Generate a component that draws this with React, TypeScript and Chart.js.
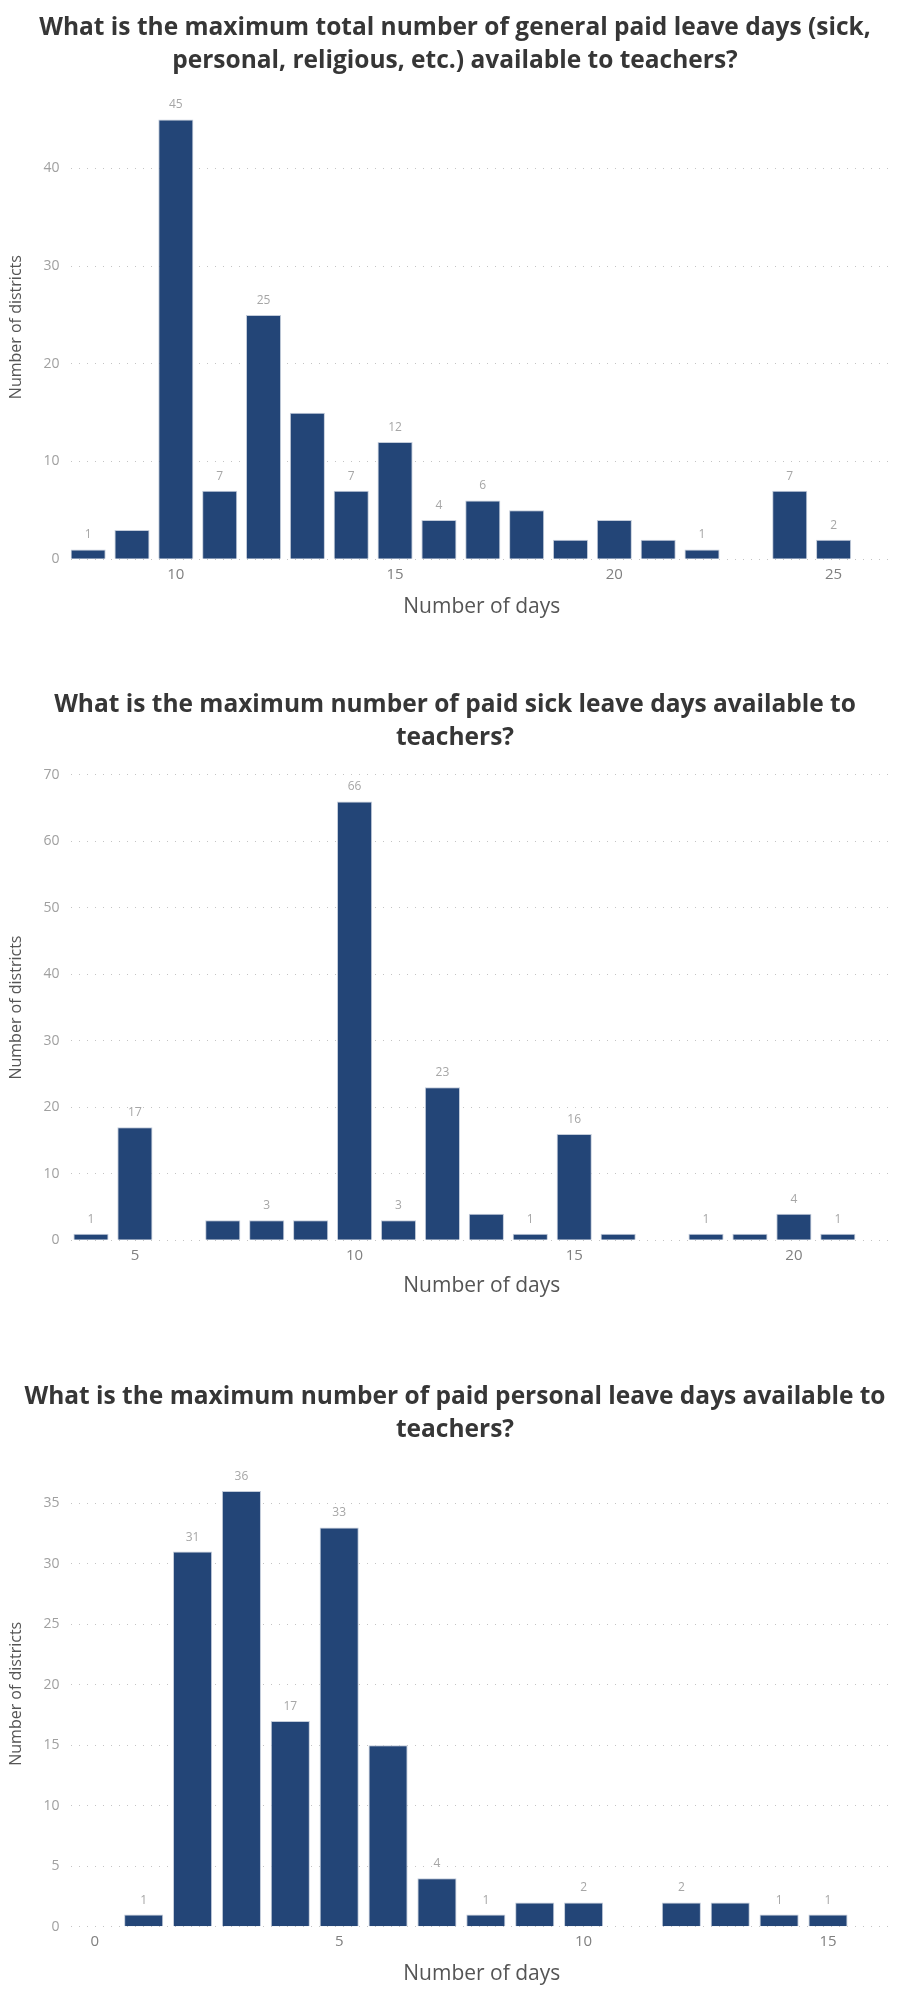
import React, { useEffect, useRef } from "react";
import { Chart, registerables } from "chart.js";

Chart.register(...registerables);

// ---------- Data ----------
// Chart 1: total general paid leave days
const generalTitle = [
  "What is the maximum total number of general paid leave days (sick,",
  "personal, religious, etc.) available to teachers?",
];
const generalDays = [8, 9, 10, 11, 12, 13, 14, 15, 16, 17, 18, 19, 20, 21, 22, 24, 25];
const generalCounts = [1, 3, 45, 7, 25, 15, 7, 12, 4, 6, 5, 2, 4, 2, 1, 7, 2];
const generalLabeledDays = [8, 10, 11, 12, 14, 15, 16, 17, 22, 24, 25];

// Chart 2: paid sick leave days
const sickTitle = [
  "What is the maximum number of paid sick leave days available to",
  "teachers?",
];
const sickDays = [4, 5, 7, 8, 9, 10, 11, 12, 13, 14, 15, 16, 18, 19, 20, 21];
const sickCounts = [1, 17, 3, 3, 3, 66, 3, 23, 4, 1, 16, 1, 1, 1, 4, 1];
const sickLabeledDays = [4, 5, 8, 10, 11, 12, 14, 15, 18, 20, 21];

// Chart 3: paid personal leave days
const personalTitle = [
  "What is the maximum number of paid personal leave days available to",
  "teachers?",
];
const personalDays = [1, 2, 3, 4, 5, 6, 7, 8, 9, 10, 12, 13, 14, 15];
const personalCounts = [1, 31, 36, 17, 33, 15, 4, 1, 2, 2, 2, 2, 1, 1];
const personalLabeledDays = [1, 2, 3, 4, 5, 7, 8, 10, 12, 14, 15];

const xAxisTitle = "Number of days";
const yAxisTitle = "Number of districts";

// ---------- Styling ----------
const BAR_COLOR = "#234577";
const BAR_BORDER = "#c3ccda";
const TITLE_COLOR = "#363636";
const AXIS_TITLE_COLOR = "#555555";
const Y_TICK_COLOR = "#a0a0a0";
const X_TICK_COLOR = "#808080";
const LABEL_COLOR = "#a6a6a6";
const GRID_COLOR = "#c4c4c4";

const valueLabelsPlugin = {
  id: "valueLabels",
  afterDatasetsDraw(chart: any, _args: any, opts: any) {
    const { ctx } = chart;
    const meta = chart.getDatasetMeta(0);
    const ds = chart.data.datasets[0];
    const days: number[] = (opts && opts.days) || [];
    ctx.save();
    ctx.font = '12px "Open Sans"';
    ctx.fillStyle = LABEL_COLOR;
    ctx.textAlign = "center";
    ctx.textBaseline = "middle";
    meta.data.forEach((el: any, i: number) => {
      const pt = ds.data[i];
      if (!days.includes(pt.x)) return;
      ctx.fillText(String(pt.y), el.x, el.y - 14.5);
    });
    ctx.restore();
  },
};

type Spec = {
  title: string[];
  days: number[];
  counts: number[];
  labeled: number[];
  top: number;
  height: number;
  titlePadTop: number;
  titlePadBottom: number;
  xMin: number;
  xMax: number;
  yMax: number;
  yStep: number;
  xAxisHeight: number;
  xTitlePadBottom: number;
};

function BarChart({ spec }: { spec: Spec }) {
  const ref = useRef<HTMLCanvasElement | null>(null);
  useEffect(() => {
    if (!ref.current) return;
    const chart = new Chart(ref.current, {
      type: "bar",
      data: {
        datasets: [
          {
            data: spec.days.map((d, i) => ({ x: d, y: spec.counts[i] })),
            backgroundColor: BAR_COLOR,
            borderColor: BAR_BORDER,
            borderWidth: 1,
            categoryPercentage: 1,
            barPercentage: 0.8,
          } as any,
        ],
      },
      plugins: [valueLabelsPlugin as any],
      options: {
        animation: false,
        responsive: false,
        maintainAspectRatio: false,
        layout: { padding: 0 },
        plugins: {
          legend: { display: false },
          tooltip: { enabled: false },
          title: {
            display: true,
            text: spec.title,
            color: TITLE_COLOR,
            font: { family: "Open Sans", weight: "bold", size: 24.5, lineHeight: 1.367 },
            padding: { top: spec.titlePadTop, bottom: spec.titlePadBottom },
          },
          valueLabels: { days: spec.labeled },
        } as any,
        scales: {
          x: {
            type: "linear",
            min: spec.xMin,
            max: spec.xMax,
            offset: false,
            grid: { display: false, drawTicks: false },
            border: { display: false },
            ticks: {
              stepSize: 5,
              includeBounds: false,
              padding: 7,
              maxRotation: 0,
              autoSkip: false,
              color: X_TICK_COLOR,
              font: { family: "Open Sans", size: 15, lineHeight: 1.12 },
            },
            title: {
              display: true,
              text: xAxisTitle,
              color: AXIS_TITLE_COLOR,
              font: { family: "Open Sans", size: 21, lineHeight: 1.1 },
              padding: { top: 4, bottom: spec.xTitlePadBottom },
            },
            afterFit: (s: any) => {
              s.height = spec.xAxisHeight;
            },
          },
          y: {
            type: "linear",
            min: 0,
            max: spec.yMax,
            grid: { color: GRID_COLOR, lineWidth: 1, drawTicks: false },
            border: { display: false, dash: [1, 7] },
            ticks: {
              stepSize: spec.yStep,
              includeBounds: false,
              padding: 11,
              color: Y_TICK_COLOR,
              font: { family: "Open Sans", size: 14 },
            },
            title: {
              display: true,
              text: yAxisTitle,
              color: AXIS_TITLE_COLOR,
              font: { family: "Open Sans", size: 16, lineHeight: 1.2 },
              padding: { top: 7, bottom: 0 },
            },
            afterFit: (s: any) => {
              s.width = 70.6;
            },
          },
          yRight: {
            type: "linear",
            position: "right",
            display: true,
            grid: { display: false, drawTicks: false },
            border: { display: false },
            ticks: { display: false },
            afterFit: (s: any) => {
              s.width = 17;
            },
          },
        },
      } as any,
    });
    return () => chart.destroy();
  }, [spec]);

  return (
    <div
      style={{
        position: "absolute",
        left: 0,
        top: spec.top,
        width: 900,
        height: spec.height,
        overflow: "hidden",
      }}
    >
      <canvas
        ref={ref}
        width={910}
        height={spec.height}
        style={{ display: "block", width: 910, height: spec.height }}
      />
    </div>
  );
}

const specs: Spec[] = [
  {
    title: generalTitle,
    days: generalDays,
    counts: generalCounts,
    labeled: generalLabeledDays,
    top: 0,
    height: 624,
    titlePadTop: 11,
    titlePadBottom: 17.1,
    xMin: 7.6,
    xMax: 26.355,
    yMax: 47.5,
    yStep: 10,
    xAxisHeight: 64.8,
    xTitlePadBottom: 5,
  },
  {
    title: sickTitle,
    days: sickDays,
    counts: sickCounts,
    labeled: sickLabeledDays,
    top: 650,
    height: 652,
    titlePadTop: 38.15,
    titlePadBottom: 19.65,
    xMin: 3.536,
    xMax: 22.256,
    yMax: 70,
    yStep: 10,
    xAxisHeight: 61.7,
    xTitlePadBottom: 4.1,
  },
  {
    title: personalTitle,
    days: personalDays,
    counts: personalCounts,
    labeled: personalLabeledDays,
    top: 1340,
    height: 652,
    titlePadTop: 40.05,
    titlePadBottom: 13.8,
    xMin: -0.495,
    xMax: 16.33,
    yMax: 38.5,
    yStep: 5,
    xAxisHeight: 65.3,
    xTitlePadBottom: 6.3,
  },
];

export default function App() {
  return (
    <div
      style={{
        position: "absolute",
        left: 0,
        top: 0,
        width: 900,
        height: 2000,
        background: "#ffffff",
        overflow: "hidden",
      }}
    >
      {specs.map((s, i) => (
        <BarChart key={i} spec={s} />
      ))}
    </div>
  );
}
